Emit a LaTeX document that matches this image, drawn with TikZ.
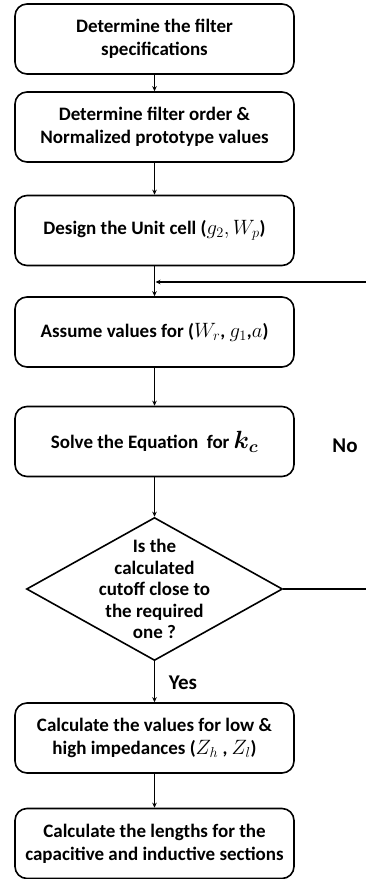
\documentclass[tikz,border=0pt]{standalone}
\usepackage{fontspec}
\setmainfont{Carlito}
\usepackage{bm}
\usetikzlibrary{shapes.geometric,arrows.meta}
\newcommand{\bw}{279pt}
\newcommand{\bh}{70pt}
\newcommand{\mth}[1]{{\fontsize{22}{23}\selectfont$#1$}}

\begin{document}
\begin{tikzpicture}[x=1pt, y=-1pt,
    rect/.style={draw, rectangle, rounded corners=12pt, line width=1.6pt, minimum width=\bw, minimum height=\bh, align=center, inner sep=0pt, font=\bfseries\fontsize{19}{23}\selectfont},
    decision/.style={draw, diamond, line width=1.6pt, minimum width=256pt, minimum height=143pt, inner sep=0pt},
    dtext/.style={align=center, inner sep=0pt, font=\bfseries\fontsize{19}{21.5}\selectfont},
    lbl/.style={inner sep=0pt, font=\bfseries\fontsize{21}{22}\selectfont},
    arr/.style={-{Stealth[length=5pt,width=4.5pt]}, line width=1.3pt}]
    \useasboundingbox (0,0) rectangle (365,879);

    % Steps
    \node[rect] (spec) at (154.5,39) {Determine the filter\\specifications};
    \node[rect] (order) at (154.5,127) {Determine filter order \&\\Normalized prototype values};
    \node[rect] (cell) at (154.5,230.5) {Design the Unit cell (\mth{g_2, W_p})};
    \node[rect] (assume) at (154.5,332) {Assume values for (\mth{W_r}, \mth{g_1},\mth{a})};
    \node[rect] (solve) at (154.5,441.5) {Solve the Equation\ \ for {\fontsize{27}{27}\selectfont$\bm{k_c}$}};

    % Decision
    \node[decision] (check) at (154.5,589) {};
    \node[dtext] (checktext) at (check.center) {Is the\\calculated\\cutoff close to\\the required\\one ?};

    \node[rect] (impd) at (154.5,738) {Calculate the values for low \&\\high impedances (\mth{Z_h} , \mth{Z_l})};
    \node[rect] (len) at (154.5,843.5) {Calculate the lengths for the\\capacitive and inductive sections};

    % Labels
    \node[lbl] (no) at (345,446) {No};
    \node[lbl] (yes) at (183,683) {Yes};

    % Connectors
    \coordinate (merge) at (155.5,282);
    \draw[arr] (spec) -- (order);
    \draw[arr] (order) -- (cell);
    \draw[arr] (cell) -- (assume);
    \draw[arr] (assume) -- (solve);
    \draw[arr] (solve) -- (check);
    \draw[arr] (check) -- (impd);
    \draw[arr] (impd) -- (len);
    \draw[arr] (check.east) -- ++(95,0) |- (merge);

\end{tikzpicture}
\end{document}
